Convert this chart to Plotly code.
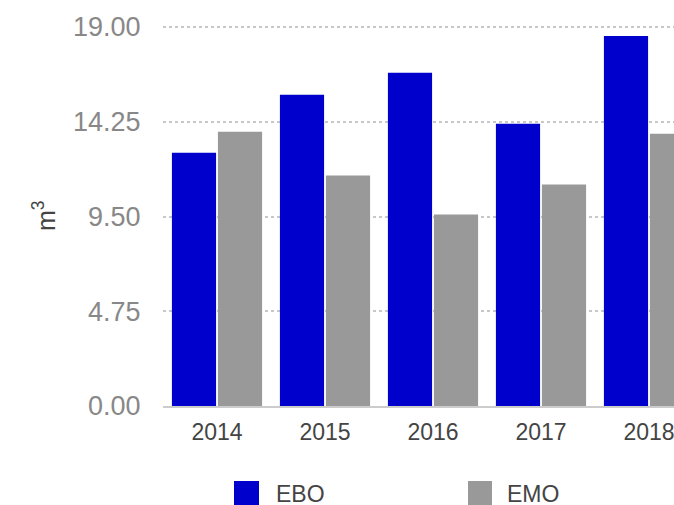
import plotly.graph_objects as go

years = ["2014", "2015", "2016", "2017", "2018"]
ebo = [12.7, 15.6, 16.7, 14.15, 18.55]
emo = [13.75, 11.55, 9.6, 11.1, 13.65]
series_names = ["EBO", "EMO"]
series_colors = ["#0000CC", "#999999"]
y_ticks = [0, 4.75, 9.5, 14.25, 19]

W, H = 674, 505
YMAX = 19.15
PPU = 19.95
L, R, B = 163, 0, 99
T = int(round(H - B - YMAX * PPU))
pw, ph = W - L - R, H - T - B

def px_x(p):
    return (p - L) / pw

def px_y(p):
    return (H - B - p) / ph

fig = go.Figure()
for name, vals, col in zip(series_names, [ebo, emo], series_colors):
    fig.add_trace(go.Bar(x=years, y=vals, name=name, marker=dict(color=col, line=dict(width=0)),
                         showlegend=False))

font = "Liberation Sans, Arial, Helvetica, sans-serif"
fig.update_layout(
    width=W, height=H,
    margin=dict(l=L, r=R, t=T, b=B, pad=0),
    paper_bgcolor="white", plot_bgcolor="white",
    barmode="group", bargap=0.148, bargroupgap=0.04,
    font=dict(family=font),
    xaxis=dict(type="category", range=[-0.5, -0.5 + pw / 108.0],
               showgrid=False, showline=True, linecolor="#cccccc", linewidth=1.5,
               ticks="outside", ticklen=5, tickcolor="rgba(0,0,0,0)",
               tickfont=dict(size=23, color="#444444")),
    yaxis=dict(range=[0, YMAX], tickvals=y_ticks, tickformat=".2f",
               showgrid=True, gridcolor="#c8c8c8", griddash="dot", gridwidth=1.5,
               zeroline=False, showline=False,
               ticks="outside", ticklen=16, tickcolor="rgba(0,0,0,0)",
               tickfont=dict(size=27, color="#888888")),
)

fig.add_annotation(text="m<sup>3</sup>", xref="paper", yref="paper",
                   x=px_x(44), y=px_y(216), xanchor="center", yanchor="middle",
                   textangle=-90, showarrow=False, font=dict(size=25, color="#444444"))

sq = [(234, 259), (468, 492)]
tx = [274, 505]
for (x0, x1), t, name, col in zip(sq, tx, series_names, series_colors):
    fig.add_shape(type="rect", xref="paper", yref="paper",
                  x0=px_x(x0), x1=px_x(x1), y0=px_y(506), y1=px_y(481),
                  fillcolor=col, line=dict(width=0))
    fig.add_annotation(text=name, xref="paper", yref="paper", x=px_x(t), y=px_y(494),
                       xanchor="left", yanchor="middle", showarrow=False,
                       font=dict(size=23, color="#444444"))

fig.write_html("out.html")
